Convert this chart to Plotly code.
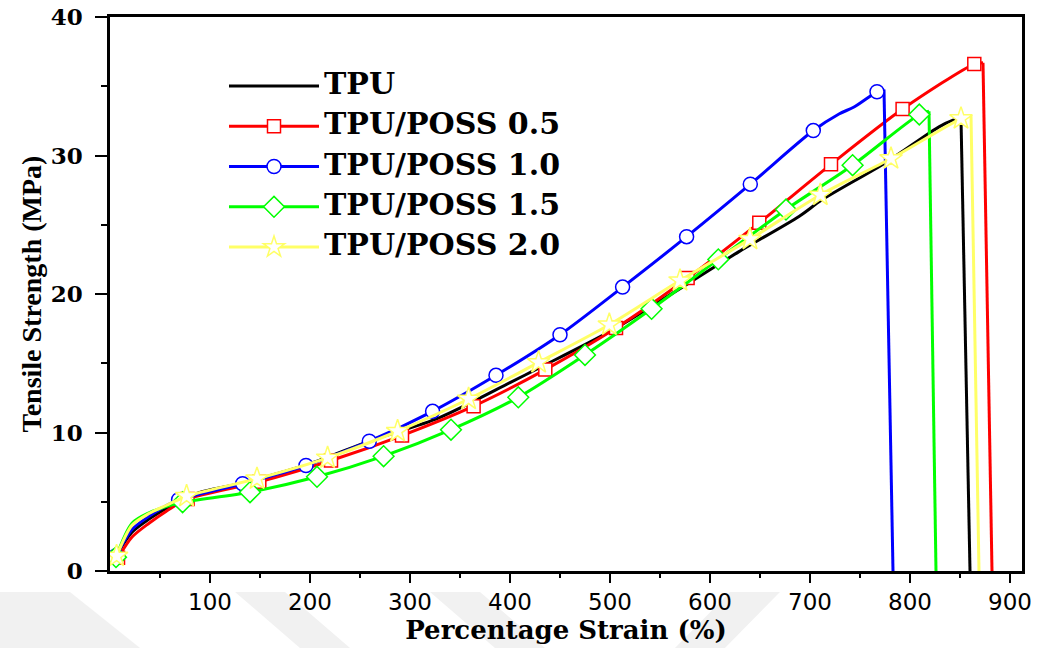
import plotly.graph_objects as go

# ---------------- data ----------------
series_names = ["TPU", "TPU/POSS 0.5", "TPU/POSS 1.0", "TPU/POSS 1.5", "TPU/POSS 2.0"]

tpu_x = [6, 22, 39, 56, 75, 89, 129, 200, 260, 329, 400, 429, 500, 576, 629, 689, 712, 776, 829, 843, 851]
tpu_y = [1.1, 2.8, 3.75, 4.5, 5.2, 5.65, 6.3, 7.75, 9.4, 11.06, 13.6, 14.66, 17.3, 20.66, 23.06, 25.6, 26.8, 29.5, 32.07, 32.55, 32.7]
tpu_mx = []
tpu_my = []
tpu_break = 860

p05_x = [8, 22, 39, 56, 77.6, 149.3, 221, 292, 363.6, 435.3, 506, 577.6, 649.3, 721, 792.6, 864.3, 873]
p05_y = [0.95, 2.45, 3.45, 4.3, 5.2, 6.44, 7.98, 9.78, 11.9, 14.54, 17.54, 21.15, 25.15, 29.36, 33.35, 36.6, 36.7]
p05_mx = [8, 77.6, 149.3, 221, 292, 363.6, 435.3, 506, 577.6, 649.3, 721, 792.6, 864.3]
p05_my = [0.95, 5.2, 6.44, 7.98, 9.78, 11.9, 14.54, 17.54, 21.15, 25.15, 29.36, 33.35, 36.6]
p05_break = 882

p10_x = [6, 22, 39, 56, 68.6, 132.6, 196, 259.3, 322.6, 386, 450, 512.6, 576.6, 640.3, 703.3, 729, 744, 767, 774]
p10_y = [1.1, 3.0, 3.95, 4.7, 5.15, 6.3, 7.62, 9.37, 11.53, 14.13, 17.06, 20.5, 24.14, 27.93, 31.8, 33.0, 33.5, 34.6, 34.77]
p10_mx = [6, 68.6, 132.6, 196, 259.3, 322.6, 386, 450, 512.6, 576.6, 640.3, 703.3, 767]
p10_my = [1.1, 5.15, 6.3, 7.62, 9.37, 11.53, 14.13, 17.06, 20.5, 24.14, 27.93, 31.8, 34.6]
p10_break = 783

p15_x = [6, 22, 39, 56, 72.6, 140, 207, 273.6, 341, 408.3, 475, 541.6, 608.3, 676, 742.6, 809.3, 819]
p15_y = [1.0, 3.45, 4.2, 4.65, 4.97, 5.69, 6.8, 8.29, 10.2, 12.54, 15.6, 18.93, 22.5, 26.1, 29.3, 32.96, 33.2]
p15_mx = [6, 72.6, 140, 207, 273.6, 341, 408.3, 475, 541.6, 608.3, 676, 742.6, 809.3]
p15_my = [1.0, 4.97, 5.69, 6.8, 8.29, 10.2, 12.54, 15.6, 18.93, 22.5, 26.1, 29.3, 32.96]
p15_break = 826

p20_x = [6.6, 22, 39, 56, 76.6, 147, 217.6, 287.6, 358.6, 428.6, 499.3, 570, 640, 710.3, 781, 851, 861]
p20_y = [1.08, 3.3, 4.15, 4.73, 5.4, 6.66, 8.17, 10.09, 12.42, 15.06, 17.78, 20.97, 23.96, 27.15, 29.78, 32.67, 32.9]
p20_mx = [6.6, 76.6, 147, 217.6, 287.6, 358.6, 428.6, 499.3, 570, 640, 710.3, 781, 851]
p20_my = [1.08, 5.4, 6.66, 8.17, 10.09, 12.42, 15.06, 17.78, 20.97, 23.96, 27.15, 29.78, 32.67]
p20_break = 869

x_ticks = [100, 200, 300, 400, 500, 600, 700, 800, 900]
x_minor = [50, 150, 250, 350, 450, 550, 650, 750, 850]
y_ticks = [0, 10, 20, 30, 40]
y_minor = [5, 15, 25, 35]

# ---------------- styles ----------------
colors = ["#000000", "#FF0000", "#0000FF", "#00FF00", "#FFFF66"]
symbols = [None, "square", "circle", "diamond", "star"]
msizes = [0, 13, 14, 16, 17]

series = [
    (tpu_x, tpu_y, tpu_mx, tpu_my, tpu_break),
    (p05_x, p05_y, p05_mx, p05_my, p05_break),
    (p10_x, p10_y, p10_mx, p10_my, p10_break),
    (p15_x, p15_y, p15_mx, p15_my, p15_break),
    (p20_x, p20_y, p20_mx, p20_my, p20_break),
]

fig = go.Figure()

def legend_label(t):
    return f"<span style='font-size:30px'>{t}</span>"

# legend-only entries (line + hollow marker)
for i, name in enumerate(series_names):
    if symbols[i] is None:
        fig.add_trace(go.Scatter(x=[None], y=[None], mode="lines", name=legend_label(name),
                                 legendgroup=name,
                                 line=dict(color=colors[i], width=3)))
    else:
        fig.add_trace(go.Scatter(x=[None], y=[None], mode="lines+markers", name=legend_label(name),
                                 legendgroup=name,
                                 line=dict(color=colors[i], width=3),
                                 marker=dict(symbol=symbols[i], size=msizes[i], color="white",
                                             line=dict(color=colors[i], width=1.5))))

for i, (xs, ys, mx, my, brk) in enumerate(series):
    name = series_names[i]
    fig.add_trace(go.Scatter(x=xs, y=ys, mode="lines", showlegend=False, legendgroup=name,
                             line=dict(color=colors[i], width=3, shape="spline", smoothing=0.8),
                             hoverinfo="skip"))
    fig.add_trace(go.Scatter(x=[xs[-1], brk], y=[ys[-1], 0], mode="lines", showlegend=False,
                             legendgroup=name, line=dict(color=colors[i], width=3),
                             hoverinfo="skip"))
    if mx:
        fig.add_trace(go.Scatter(x=mx, y=my, mode="markers", showlegend=False, legendgroup=name,
                                 marker=dict(symbol=symbols[i], size=msizes[i], color="white",
                                             line=dict(color=colors[i], width=1.5)),
                                 hoverinfo="skip"))

# faint watermark bands (decoration) in pixel terms -> paper coords
L, R, T, B = 110, 1022, 17, 571
def px2paper(px, py):
    return (px - L) / (R - L), (B - py) / (B - T)

bands = [
    [(0, 592), (70, 592), (140, 648), (0, 648)],
    [(235, 592), (285, 592), (350, 648), (300, 648)],
    [(430, 592), (480, 592), (545, 648), (495, 648)],
    [(730, 592), (780, 592), (725, 648), (675, 648)],
]
shapes = []
for b in bands:
    pts = [px2paper(*p) for p in b]
    path = "M " + " L ".join(f"{x:.4f},{y:.4f}" for x, y in pts) + " Z"
    shapes.append(dict(type="path", path=path, xref="paper", yref="paper",
                       fillcolor="#f1f1f1", line=dict(width=0), layer="below"))

fig.update_layout(
    width=1048, height=648,
    margin=dict(l=L, r=1048 - R, t=T, b=648 - B),
    paper_bgcolor="white", plot_bgcolor="white",
    shapes=shapes,
    showlegend=True,
    legend=dict(x=0.125, y=0.912, xanchor="left", yanchor="top",
                bgcolor="rgba(0,0,0,0)", itemwidth=90,
                font=dict(family="DejaVu Serif", size=21, color="black", weight="bold")),
    xaxis=dict(range=[0, 912], tickmode="array", tickvals=x_ticks, automargin=False,
               ticks="outside", ticklen=9, tickwidth=2, tickcolor="black",
               showline=True, linewidth=2.5, linecolor="black", mirror=True,
               showgrid=False, zeroline=False,
               tickfont=dict(family="DejaVu Sans", size=23, color="black"),
               minor=dict(tickmode="array", tickvals=x_minor, ticks="outside",
                          ticklen=4, tickwidth=2, tickcolor="black", showgrid=False),
               title=dict(text="Percentage Strain (%)", standoff=3,
                          font=dict(family="DejaVu Serif", size=26, color="black", weight="bold"))),
    yaxis=dict(range=[0, 40], tickmode="array", tickvals=y_ticks, automargin=False,
               ticks="outside", ticklen=12, tickwidth=2, tickcolor="black",
               ticklabelstandoff=8,
               showline=True, linewidth=2.5, linecolor="black", mirror=True,
               showgrid=False, zeroline=False,
               tickfont=dict(family="DejaVu Serif", size=23, color="black", weight="bold"),
               minor=dict(tickmode="array", tickvals=y_minor, ticks="outside",
                          ticklen=6, tickwidth=2, tickcolor="black", showgrid=False),
               title=dict(text="Tensile Strength (MPa)", standoff=1,
                          font=dict(family="Liberation Serif", size=28, color="black", weight="bold"))),
)

fig.write_html("out.html")
